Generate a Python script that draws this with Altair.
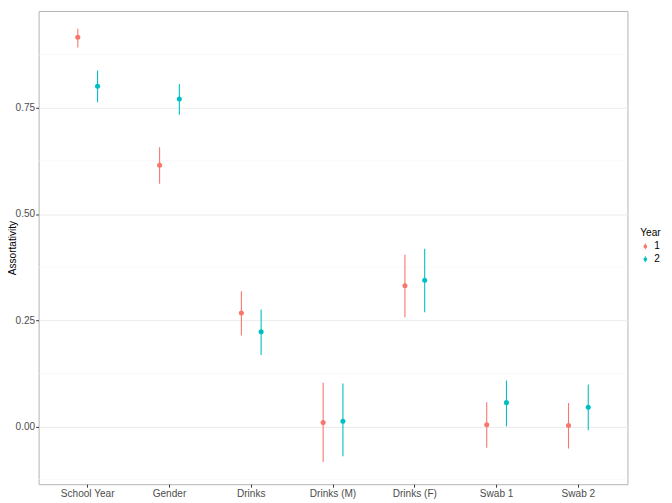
import altair as alt
import pandas as pd

categories = ["School Year", "Gender", "Drinks", "Drinks (M)", "Drinks (F)", "Swab 1", "Swab 2"]
years = ["1", "2"]

est_y1 = [0.916, 0.615, 0.267, 0.009, 0.331, 0.004, 0.002]
lo_y1 = [0.892, 0.571, 0.214, -0.084, 0.257, -0.050, -0.052]
hi_y1 = [0.936, 0.657, 0.318, 0.103, 0.404, 0.057, 0.055]

est_y2 = [0.801, 0.771, 0.223, 0.012, 0.344, 0.056, 0.045]
lo_y2 = [0.763, 0.734, 0.168, -0.070, 0.269, 0.000, -0.009]
hi_y2 = [0.838, 0.806, 0.275, 0.101, 0.418, 0.108, 0.099]

minor_grid = [-0.125, 0.125, 0.375, 0.625, 0.875]
major_ticks = [0.0, 0.25, 0.5, 0.75]

rows = []
for i, c in enumerate(categories):
    rows.append({"Variable": c, "Year": "1", "est": est_y1[i], "lo": lo_y1[i], "hi": hi_y1[i]})
    rows.append({"Variable": c, "Year": "2", "est": est_y2[i], "lo": lo_y2[i], "hi": hi_y2[i]})
df = pd.DataFrame(rows)
minor_df = pd.DataFrame({"v": minor_grid})

FONT = "Liberation Sans"
colors = ["#F8766D", "#00BFC4"]
ydom = [-0.136, 0.978]

yscale = alt.Scale(domain=ydom, nice=False, zero=False)
xscale = alt.Scale(domain=categories, paddingInner=0.5, paddingOuter=0.35)
cscale = alt.Scale(domain=years, range=colors)

minor = alt.Chart(minor_df).mark_rule(color="#F4F4F4", strokeWidth=0.6).encode(
    y=alt.Y("v:Q", scale=yscale)
)

x_enc = alt.X("Variable:N", scale=xscale, sort=categories,
              axis=alt.Axis(title=None, labelAngle=0, labelFont=FONT, labelFontSize=10.2,
                            labelColor="#4D4D4D", tickColor="#333333", tickSize=3,
                            labelPadding=1, domain=False, gridColor="#EBEBEB", gridWidth=1))
xo_enc = alt.XOffset("Year:N", scale=alt.Scale(domain=years, paddingInner=0, paddingOuter=0.035))

# pointrange glyph drawn with strokes only: vertical line + concentric rings (looks like a dot)
glyph = ("M0,-1L0,1 "
         "M-0.42,0A0.42,0.42,0,1,0,0.42,0A0.42,0.42,0,1,0,-0.42,0 "
         "M-0.28,0A0.28,0.28,0,1,0,0.28,0A0.28,0.28,0,1,0,-0.28,0 "
         "M-0.14,0A0.14,0.14,0,1,0,0.14,0A0.14,0.14,0,1,0,-0.14,0")

legend = alt.Legend(title="Year", orient="none", legendX=609, legendY=220,
                    titleFont=FONT, titleFontSize=10.2, titleFontWeight="normal",
                    titleColor="#000000", labelFont=FONT, labelFontSize=10.2,
                    labelColor="#000000", symbolType=glyph,
                    symbolSize=36, symbolStrokeWidth=1.1, symbolOpacity=1, rowPadding=1,
                    titlePadding=3, labelOffset=4)

color_enc = alt.Color("Year:N", scale=cscale, legend=legend)

y_axis = alt.Axis(title="Assortativity", values=major_ticks, format=".2f",
                  labelFont=FONT, labelFontSize=10.2, labelColor="#4D4D4D",
                  tickColor="#333333", tickSize=3, labelPadding=1, domain=False,
                  gridColor="#EBEBEB", gridWidth=1,
                  titleFont=FONT, titleFontSize=10.2, titleFontWeight="normal",
                  titleColor="#000000", titleX=-31, titleBaseline="top")

points = alt.Chart(df).mark_point(filled=True, size=26, opacity=1).encode(
    x=x_enc, xOffset=xo_enc,
    y=alt.Y("est:Q", scale=yscale, axis=y_axis),
    color=color_enc,
)

rules = alt.Chart(df).mark_rule(strokeWidth=1.1).encode(
    x=x_enc, xOffset=xo_enc,
    y=alt.Y("lo:Q", scale=yscale),
    y2="hi:Q",
    color=color_enc,
)

chart = alt.layer(minor, points, rules).properties(
    width=596, height=479,
    autosize=alt.AutoSizeParams(type="none"),
    padding={"left": 31, "top": 0, "right": 37, "bottom": 15},
).configure_view(stroke="#B3B3B3", strokeWidth=1).configure_axis(labelFont=FONT, titleFont=FONT)

chart.save("out.html", embed_options={"renderer": "svg", "actions": False})
